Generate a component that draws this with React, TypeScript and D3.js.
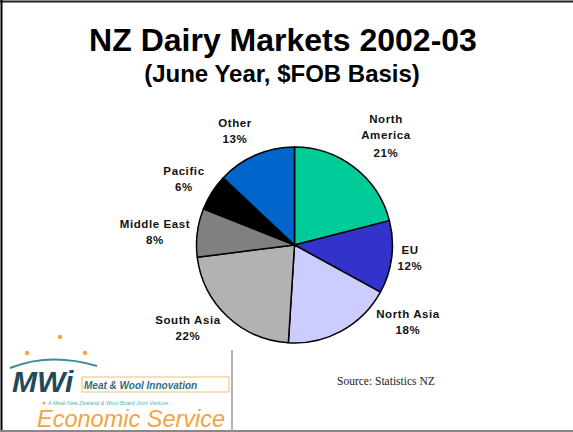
import React from "react";
import * as d3 from "d3";

const categories = ["North America", "EU", "North Asia", "South Asia", "Middle East", "Pacific", "Other"];
const shares = [21, 12, 18, 22, 8, 6, 13];
const colors = ["#00CC99", "#3333CC", "#CCCCFF", "#B2B2B2", "#808080", "#000000", "#0066CC"];
const labelLines = [["North", "America", "21%"], ["EU", "12%"], ["North Asia", "18%"], ["South Asia", "22%"], ["Middle East", "8%"], ["Pacific", "6%"], ["Other", "13%"]];
const labelPos = [[386, 123], [410, 254], [408, 318], [188, 324], [155, 228], [184, 175], [235, 127]];

const W = 573, H = 432;
const cx = 294.5, cy = 245, R = 98;

export default function App() {
  const pie = d3.pie<number>().sort(null).value((d) => d);
  const arcs = pie(shares);
  const arc = d3.arc<d3.PieArcDatum<number>>().innerRadius(0).outerRadius(R);
  return (
    <svg width={W} height={H} style={{ position: "absolute", left: 0, top: 0, background: "#fff" }}>
      <rect x={0} y={0} width={W} height={H} fill="#fff" />
      <line x1={0} x2={W} y1={1.5} y2={1.5} stroke="#222" strokeWidth={2} />
      <line x1={1.5} x2={1.5} y1={0} y2={H} stroke="#000" strokeWidth={2} />
      <line x1={0} x2={W} y1={431} y2={431} stroke="#888" strokeWidth={2} />
      <text x={283} y={51} textAnchor="middle" fontFamily="Liberation Sans, Arial, sans-serif" fontWeight="bold" fontSize={32}>NZ Dairy Markets 2002-03</text>
      <text x={282} y={82} textAnchor="middle" fontFamily="Liberation Sans, Arial, sans-serif" fontWeight="bold" fontSize={24}>(June Year, $FOB Basis)</text>
      <g transform={`translate(${cx},${cy})`}>
        {arcs.map((a, i) => (
          <path key={i} d={arc(a) || ""} fill={colors[i]} stroke="#000" strokeWidth={1.5} strokeLinejoin="round" />
        ))}
      </g>
      {labelLines.map((lines, i) => (
        <text key={i} textAnchor="middle" fontFamily="Liberation Sans, Arial, sans-serif" fontWeight="bold" fontSize={11.5} letterSpacing={0.6} fill="#111">
          {lines.map((l, j) => (
            <tspan key={j} x={labelPos[i][0]} y={labelPos[i][1] + j * 16 - (lines.length === 3 && j === 2 ? -2 : 0)}>{l}</tspan>
          ))}
        </text>
      ))}
      <text x={337} y={385} fontFamily="Liberation Serif, Times New Roman, serif" fontSize={11.5} fill="#222">Source: Statistics NZ</text>
      {/* logo */}
      <g>
        <line x1={232} x2={232} y1={350} y2={432} stroke="#999" strokeWidth={1.5} />
        <circle cx={60} cy={337} r={2.2} fill="#F4A340" />
        <circle cx={27} cy={353} r={2.2} fill="#F4A340" />
        <circle cx={85} cy={353} r={2.2} fill="#F4A340" />
        <path d="M10,368 Q50,352 97,366" fill="none" stroke="#3E8C99" strokeWidth={2} />
        <text x={12} y={392} fontFamily="Liberation Sans, Arial, sans-serif" fontStyle="italic" fontWeight="bold" fontSize={30} fill="#1F4A5A" letterSpacing={0}>MWi</text>
        <rect x={82} y={377} width={147} height={15} fill="none" stroke="#F4C070" strokeWidth={1} />
        <text x={84} y={389} fontFamily="Liberation Sans, Arial, sans-serif" fontStyle="italic" fontWeight="bold" fontSize={10} fill="#2E6F7A">Meat &amp; Wool Innovation</text>
        <circle cx={44} cy={403} r={1.5} fill="#F4A340" />
        <text x={48} y={405} fontFamily="Liberation Sans, Arial, sans-serif" fontStyle="italic" fontSize={5.5} fill="#4FB3B8">A Meat New Zealand &amp; Wool Board Joint Venture</text>
        <text x={37} y={427} fontFamily="Liberation Sans, Arial, sans-serif" fontStyle="italic" fontSize={23.5} fill="#F4A340">Economic Service</text>
      </g>
    </svg>
  );
}
